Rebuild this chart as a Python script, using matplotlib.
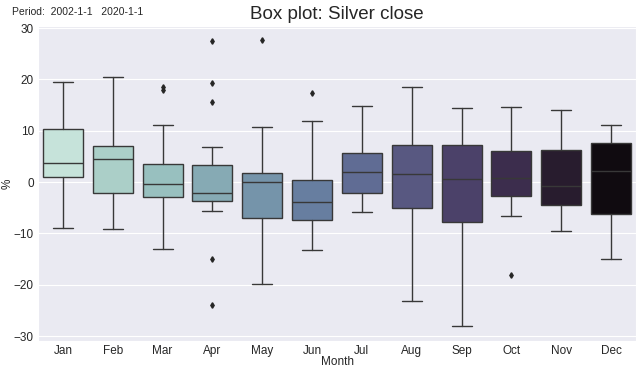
import matplotlib
matplotlib.use("Agg")
import matplotlib.pyplot as plt
import seaborn as sns

sns.set_style("darkgrid")
plt.rcParams['font.family'] = ['Liberation Sans', 'DejaVu Sans']

months = ["Jan", "Feb", "Mar", "Apr", "May", "Jun", "Jul", "Aug", "Sep", "Oct", "Nov", "Dec"]
whislo = [-8.9, -9.2, -13.1, -5.6, -19.8, -13.3, -5.8, -23.2, -28.1, -6.7, -9.5, -14.9]
q1 = [1.0, -2.1, -3.0, -3.6, -7.0, -7.4, -2.1, -5.1, -7.7, -2.7, -4.4, -6.2]
med = [3.8, 4.5, -0.3, -2.2, 0.1, -3.8, 1.9, 1.5, 0.5, 0.7, -0.8, 2.2]
q3 = [10.3, 7.1, 3.6, 3.4, 1.7, 0.4, 5.7, 7.3, 7.3, 6.1, 6.2, 7.7]
whishi = [19.4, 20.5, 11.2, 6.8, 10.8, 11.9, 14.8, 18.6, 14.4, 14.6, 14.0, 11.2]
fliers = [[], [], [18.6, 17.9], [27.4, 19.2, 15.6, -15.0, -23.9], [27.7], [17.3],
          [], [], [], [-18.1], [], []]
colors = ["#c6e3da", "#abcfc8", "#98c0bf", "#86aab4", "#7594aa", "#677ea0",
          "#606c94", "#585881", "#4b4169", "#3c2d4d", "#281c2e", "#100b10"]

stats = []
for i, m in enumerate(months):
    stats.append(dict(label=m, whislo=whislo[i], q1=q1[i], med=med[i], q3=q3[i],
                      whishi=whishi[i], fliers=fliers[i]))

fig = plt.figure(figsize=(6.4, 3.71), dpi=100)
ax = fig.add_axes([38 / 640, 1 - 340.7 / 371, 598 / 640, (340.7 - 26) / 371])
edge = "#383838"
lw = 1.0
bp = ax.bxp(stats, positions=range(len(months)), widths=0.8, patch_artist=True,
            boxprops=dict(edgecolor=edge, linewidth=lw),
            medianprops=dict(color=edge, linewidth=lw),
            whiskerprops=dict(color=edge, linewidth=lw),
            capprops=dict(color=edge, linewidth=lw),
            capwidths=0.4,
            flierprops=dict(marker="d", markersize=2.8, markerfacecolor="#262626",
                            markeredgecolor="#262626", linestyle="none"))
for patch, c in zip(bp["boxes"], colors):
    patch.set_facecolor(c)

ax.set_xlim(-0.5, 11.5)
ax.set_ylim(-30.9, 30.4)
ax.set_yticks([-30, -20, -10, 0, 10, 20, 30])
ax.set_yticklabels(["\u221230", "\u221220", "\u221210", "0", "10", "20", "30"])
ax.tick_params(axis="both", labelsize=8.5, colors="#262626", length=0, pad=3)
ax.set_xlabel("Month", fontsize=8.5, color="#262626")
ax.set_ylabel("%", fontsize=8.5, color="#262626")
ax.xaxis.set_label_coords(0.5, -(362 - 340.7) / (340.7 - 26), transform=ax.transAxes)
ax.yaxis.set_label_coords(-(38 - 8) / 598, 0.5)
ax.xaxis.label.set_va("center")
ax.yaxis.label.set_va("center")
ax.grid(axis="x", visible=False)
ax.set_title("Box plot: Silver close", fontsize=13.5, color="#262626", pad=5)
fig.text(12 / 640, 1 - 12 / 371, "Period:  2002-1-1   2020-1-1", fontsize=7.5,
         va="center", ha="left", color="#262626")

fig.savefig("out.png", dpi=100)
